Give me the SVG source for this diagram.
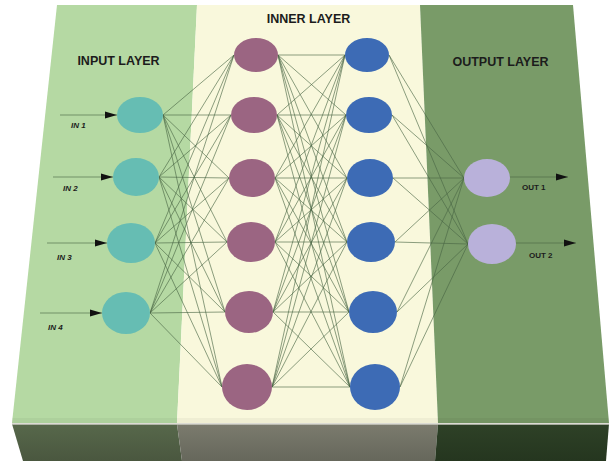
<svg xmlns="http://www.w3.org/2000/svg" width="609" height="461" viewBox="0 0 609 461">
  <style>
    .hdr { font-family: "Liberation Sans", Arial, sans-serif; font-weight: bold; font-size: 12.5px; fill: #1c1c1c; text-anchor: middle; }
    .lbl { font-family: "Liberation Sans", Arial, sans-serif; font-weight: bold; font-size: 8px; fill: #1c1c1c; }
    .it { font-style: italic; }
    .in { fill: #66bdb3; }
    .h1 { fill: #9b6582; }
    .h2 { fill: #3d6bb5; }
    .out { fill: #b9b1da; }
    .conn line { stroke: #4a6644; stroke-width: 0.7; stroke-opacity: 0.9; }
    .io { stroke: #3b4d37; stroke-width: 0.8; marker-end: url(#head); }
  </style>
  <defs>
    <marker id="head" markerUnits="userSpaceOnUse" markerWidth="13" markerHeight="8" refX="12" refY="4" orient="auto">
      <path d="M0,0.5 L12,4 L0,7.5 Z" fill="#111"/>
    </marker>
    <linearGradient id="fL" x1="0" y1="0" x2="0" y2="1">
      <stop offset="0" stop-color="#57684b"/>
      <stop offset="1" stop-color="#4a573f"/>
    </linearGradient>
    <linearGradient id="fM" x1="0" y1="0" x2="0" y2="1">
      <stop offset="0" stop-color="#7b7b6e"/>
      <stop offset="1" stop-color="#66675b"/>
    </linearGradient>
    <linearGradient id="fR" x1="0" y1="0" x2="0" y2="1">
      <stop offset="0" stop-color="#2e4127"/>
      <stop offset="1" stop-color="#25361f"/>
    </linearGradient>
  </defs>

  <rect width="609" height="461" fill="#ffffff"/>

  <!-- top face: three layer panels -->
  <g id="panels">
    <polygon points="57,5 197,5 177,423 12,423" fill="#b5d9a3"/>
    <polygon points="197,5 420,5 438,423 177,423" fill="#f9f8dc"/>
    <polygon points="420,5 573,5 609,423 438,423" fill="#799b68"/>
    <rect x="12" y="418" width="597" height="5" fill="#000" opacity="0.04"/>
  </g>

  <!-- front face of the slab -->
  <g id="front">
    <polygon points="12,424 177,424 182,461 23,461" fill="url(#fL)"/>
    <polygon points="177,424 438,424 435,461 182,461" fill="url(#fM)"/>
    <polygon points="438,424 609,424 606,461 435,461" fill="url(#fR)"/>
    <line x1="12" y1="424" x2="609" y2="424" stroke="#cfcfc6" stroke-width="1.5"/>
  </g>

  <!-- layer headings -->
  <text class="hdr" x="118.5" y="65">INPUT LAYER</text>
  <text class="hdr" x="308.5" y="23">INNER LAYER</text>
  <text class="hdr" x="500.5" y="66">OUTPUT LAYER</text>

  <!-- weighted connections -->
  <g id="connectors" class="conn">
    <!-- input -> inner column 1 -->
    <line x1="163" y1="115" x2="234" y2="55"/><line x1="163" y1="115" x2="231" y2="115"/><line x1="163" y1="115" x2="229" y2="178"/>
    <line x1="163" y1="115" x2="227" y2="242"/><line x1="163" y1="115" x2="225" y2="312"/><line x1="163" y1="115" x2="222" y2="387"/>
    <line x1="159" y1="177" x2="234" y2="55"/><line x1="159" y1="177" x2="231" y2="115"/><line x1="159" y1="177" x2="229" y2="178"/>
    <line x1="159" y1="177" x2="227" y2="242"/><line x1="159" y1="177" x2="225" y2="312"/><line x1="159" y1="177" x2="222" y2="387"/>
    <line x1="155" y1="243" x2="234" y2="55"/><line x1="155" y1="243" x2="231" y2="115"/><line x1="155" y1="243" x2="229" y2="178"/>
    <line x1="155" y1="243" x2="227" y2="242"/><line x1="155" y1="243" x2="225" y2="312"/><line x1="155" y1="243" x2="222" y2="387"/>
    <line x1="150" y1="313" x2="234" y2="55"/><line x1="150" y1="313" x2="231" y2="115"/><line x1="150" y1="313" x2="229" y2="178"/>
    <line x1="150" y1="313" x2="227" y2="242"/><line x1="150" y1="313" x2="225" y2="312"/><line x1="150" y1="313" x2="222" y2="387"/>
    <!-- inner column 1 -> inner column 2 -->
    <line x1="278" y1="55" x2="345" y2="55"/><line x1="278" y1="55" x2="346" y2="115"/><line x1="278" y1="55" x2="347" y2="178"/>
    <line x1="278" y1="55" x2="347" y2="242"/><line x1="278" y1="55" x2="349" y2="312"/><line x1="278" y1="55" x2="350" y2="387"/>
    <line x1="277" y1="115" x2="345" y2="55"/><line x1="277" y1="115" x2="346" y2="115"/><line x1="277" y1="115" x2="347" y2="178"/>
    <line x1="277" y1="115" x2="347" y2="242"/><line x1="277" y1="115" x2="349" y2="312"/><line x1="277" y1="115" x2="350" y2="387"/>
    <line x1="275" y1="178" x2="345" y2="55"/><line x1="275" y1="178" x2="346" y2="115"/><line x1="275" y1="178" x2="347" y2="178"/>
    <line x1="275" y1="178" x2="347" y2="242"/><line x1="275" y1="178" x2="349" y2="312"/><line x1="275" y1="178" x2="350" y2="387"/>
    <line x1="275" y1="242" x2="345" y2="55"/><line x1="275" y1="242" x2="346" y2="115"/><line x1="275" y1="242" x2="347" y2="178"/>
    <line x1="275" y1="242" x2="347" y2="242"/><line x1="275" y1="242" x2="349" y2="312"/><line x1="275" y1="242" x2="350" y2="387"/>
    <line x1="273" y1="312" x2="345" y2="55"/><line x1="273" y1="312" x2="346" y2="115"/><line x1="273" y1="312" x2="347" y2="178"/>
    <line x1="273" y1="312" x2="347" y2="242"/><line x1="273" y1="312" x2="349" y2="312"/><line x1="273" y1="312" x2="350" y2="387"/>
    <line x1="272" y1="387" x2="345" y2="55"/><line x1="272" y1="387" x2="346" y2="115"/><line x1="272" y1="387" x2="347" y2="178"/>
    <line x1="272" y1="387" x2="347" y2="242"/><line x1="272" y1="387" x2="349" y2="312"/><line x1="272" y1="387" x2="350" y2="387"/>
    <!-- inner column 2 -> output -->
    <line x1="389" y1="55" x2="464" y2="178"/><line x1="389" y1="55" x2="468" y2="244"/>
    <line x1="392" y1="115" x2="464" y2="178"/><line x1="392" y1="115" x2="468" y2="244"/>
    <line x1="393" y1="178" x2="464" y2="178"/><line x1="393" y1="178" x2="468" y2="244"/>
    <line x1="395" y1="242" x2="464" y2="178"/><line x1="395" y1="242" x2="468" y2="244"/>
    <line x1="397" y1="312" x2="464" y2="178"/><line x1="397" y1="312" x2="468" y2="244"/>
    <line x1="400" y1="387" x2="464" y2="178"/><line x1="400" y1="387" x2="468" y2="244"/>
    <!-- input and output arrows -->
    <line class="io" x1="60" y1="115" x2="117" y2="115"/>
    <line class="io" x1="53" y1="177" x2="113" y2="177"/>
    <line class="io" x1="47" y1="243" x2="107" y2="243"/>
    <line class="io" x1="40" y1="313" x2="102" y2="313"/>
    <line class="io" x1="510" y1="177" x2="568" y2="177"/>
    <line class="io" x1="516" y1="243" x2="576" y2="243"/>
  </g>

  <!-- input layer -->
  <g id="in1"><ellipse class="in" cx="140" cy="115" rx="23" ry="18"/><text class="lbl it" x="71" y="128">IN 1</text></g>
  <g id="in2"><ellipse class="in" cx="136" cy="177" rx="23" ry="19"/><text class="lbl it" x="63" y="191">IN 2</text></g>
  <g id="in3"><ellipse class="in" cx="131" cy="243" rx="24" ry="20"/><text class="lbl it" x="57" y="260">IN 3</text></g>
  <g id="in4"><ellipse class="in" cx="126" cy="313" rx="24" ry="21"/><text class="lbl it" x="48" y="330">IN 4</text></g>

  <!-- inner layer, column 1 -->
  <g id="a1"><ellipse class="h1" cx="256" cy="55" rx="22" ry="17"/></g>
  <g id="a2"><ellipse class="h1" cx="254" cy="115" rx="23" ry="18"/></g>
  <g id="a3"><ellipse class="h1" cx="252" cy="178" rx="23" ry="19"/></g>
  <g id="a4"><ellipse class="h1" cx="251" cy="242" rx="24" ry="20"/></g>
  <g id="a5"><ellipse class="h1" cx="249" cy="312" rx="24" ry="21"/></g>
  <g id="a6"><ellipse class="h1" cx="247" cy="387" rx="25" ry="23"/></g>

  <!-- inner layer, column 2 -->
  <g id="b1"><ellipse class="h2" cx="367" cy="55" rx="22" ry="17"/></g>
  <g id="b2"><ellipse class="h2" cx="369" cy="115" rx="23" ry="18"/></g>
  <g id="b3"><ellipse class="h2" cx="370" cy="178" rx="23" ry="19"/></g>
  <g id="b4"><ellipse class="h2" cx="371" cy="242" rx="24" ry="20"/></g>
  <g id="b5"><ellipse class="h2" cx="373" cy="312" rx="24" ry="21"/></g>
  <g id="b6"><ellipse class="h2" cx="375" cy="387" rx="25" ry="23"/></g>

  <!-- output layer -->
  <g id="out1"><ellipse class="out" cx="487" cy="178" rx="23" ry="19"/><text class="lbl" x="522" y="190">OUT 1</text></g>
  <g id="out2"><ellipse class="out" cx="492" cy="244" rx="24" ry="20"/><text class="lbl" x="529" y="258">OUT 2</text></g>
</svg>
